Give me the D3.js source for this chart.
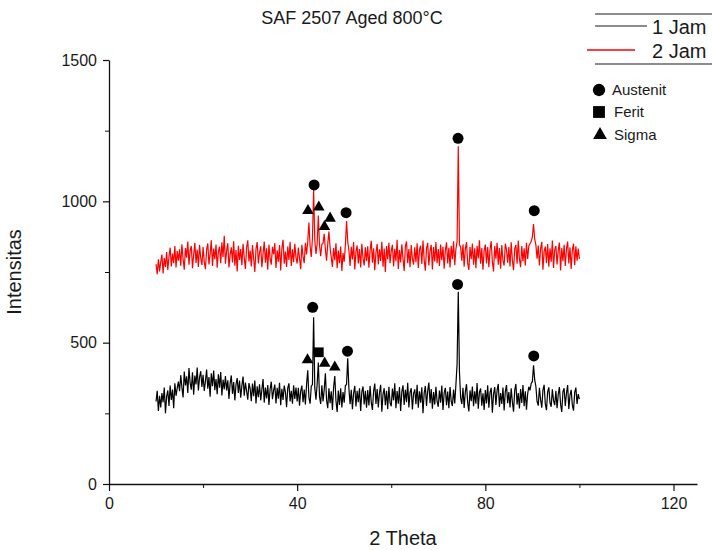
<!DOCTYPE html>
<html>
<head>
<meta charset="utf-8">
<script src="https://cdn.jsdelivr.net/npm/d3@7"></script>
<style>
  body { margin: 0; background: #fff; }
  svg { display: block; font-family: "Liberation Sans", Arial, sans-serif; }
</style>
</head>
<body>
<div id="chart"></div>
<script>
// scan grid (2 Theta, degrees): one row below = 5 degrees
var thetaStart = 10, thetaStep = 0.25;

// 1 Jam (lower trace), intensity per step
var jam1 = [
  292, 330, 258, 312, 271, 322, 289, 341, 250, 309, 331, 276, 348, 297, 334, 268, 356, 312, 339, 362,
  328, 385, 342, 306, 398, 349, 381, 322, 410, 358, 334, 395, 316, 384, 352, 412, 331, 377, 399, 343,
  386, 329, 364, 405, 337, 378, 309, 392, 346, 401, 332, 371, 318, 388, 341, 396, 313, 369, 335, 382,
  331, 367, 301, 356, 384, 319, 361, 296, 352, 375, 322, 366, 305, 348, 380, 312, 359, 329, 298, 357,
  338, 293, 355, 311, 366, 285, 346, 307, 353, 296, 334, 371, 288, 341, 303, 350, 280, 336, 362, 300,
  331, 352, 285, 340, 302, 358, 279, 337, 297, 348, 325, 272, 339, 356, 292, 330, 284, 349, 301, 341,
  292, 340, 277, 329, 348, 289, 334, 281, 352, 402, 306, 284, 346, 352, 590, 340, 298, 353, 430, 310,
  283, 349, 292, 334, 392, 297, 268, 339, 286, 328, 262, 343, 382, 294, 255, 331, 280, 339, 271, 325,
  288, 348, 352, 445, 338, 282, 333, 265, 321, 347, 274, 330, 289, 339, 258, 326, 345, 281, 330, 270,
  332, 278, 347, 289, 262, 328, 355, 283, 336, 271, 323, 351, 256, 317, 339, 279, 330, 265, 344, 287,
  275, 338, 296, 356, 268, 329, 284, 343, 258, 326, 349, 280, 333, 289, 358, 271, 324, 339, 264, 320,
  335, 282, 351, 270, 328, 288, 342, 250, 321, 347, 276, 330, 359, 286, 336, 266, 325, 281, 344, 291,
  273, 331, 288, 348, 262, 322, 340, 279, 327, 268, 343, 292, 276, 334, 285, 352, 425, 680, 398, 305,
  283, 340, 269, 327, 353, 288, 257, 331, 293, 345, 275, 328, 284, 357, 266, 325, 338, 277, 321, 262,
  332, 285, 349, 270, 324, 340, 252, 319, 343, 280, 331, 354, 273, 322, 283, 341, 260, 327, 350, 286,
  325, 271, 339, 290, 256, 331, 354, 281, 322, 267, 336, 287, 350, 275, 328, 263, 319, 344, 331, 356,
  362, 420, 368, 345, 292, 277, 340, 298, 270, 332, 351, 283, 261, 326, 342, 288, 273, 335, 295, 279,
  330, 268, 317, 343, 282, 255, 327, 339, 276, 321, 350, 265, 314, 333, 279, 260, 324, 341, 283, 318,
  300
];

// 2 Jam (upper trace)
var jam2 = [
  778, 742, 795, 752, 786, 812, 745, 799, 768, 821, 757, 804, 836, 770, 815, 781, 842, 766, 824, 790,
  830, 772, 848, 796, 758, 835, 801, 858, 776, 826, 842, 763, 811, 853, 782, 829, 768, 846, 799, 775,
  838, 786, 760, 829, 851, 777, 815, 862, 771, 833, 795, 847, 765, 822, 840, 781, 855, 803, 878, 779,
  824, 852, 766, 811, 837, 784, 859, 772, 828, 752, 843, 793, 831, 774, 850, 800, 761, 836, 862, 787,
  826, 770, 845, 798, 750, 832, 856, 780, 819, 841, 767, 814, 858, 783, 834, 758, 847, 797, 776, 839,
  812, 852, 764, 827, 786, 845, 755, 833, 864, 779, 822, 768, 840, 793, 857, 771, 830, 785, 850, 802,
  780, 836, 799, 760, 846, 806, 781, 853, 812, 858, 925, 842, 803, 870, 1040, 862, 814, 850, 950, 846,
  806, 848, 852, 885, 831, 790, 849, 893, 836, 801, 768, 835, 792, 852, 763, 826, 781, 840, 754, 817,
  786, 845, 930, 858, 827, 771, 839, 794, 856, 759, 822, 844, 780, 831, 766, 850, 799, 773, 837, 788,
  841, 765, 826, 860, 783, 834, 756, 818, 849, 777, 830, 789, 857, 769, 833, 750, 842, 795, 853, 781,
  824, 846, 770, 832, 788, 864, 761, 828, 784, 848, 797, 754, 840, 858, 781, 831, 767, 845, 796, 776,
  837, 785, 852, 764, 829, 843, 778, 861, 793, 755, 834, 853, 773, 826, 846, 759, 838, 787, 856, 781,
  831, 771, 847, 792, 839, 762, 826, 855, 780, 836, 766, 843, 795, 859, 774, 832, 858, 1195, 846, 839,
  790, 848, 769, 832, 856, 781, 757, 838, 795, 851, 776, 834, 763, 843, 798, 862, 779, 835, 758, 826,
  847, 780, 838, 767, 829, 859, 786, 752, 842, 797, 853, 776, 835, 762, 845, 791, 773, 850, 829, 783,
  838, 770, 855, 792, 756, 833, 846, 779, 861, 797, 767, 842, 788, 834, 773, 853, 796, 842, 850, 858,
  874, 920, 866, 846, 797, 844, 773, 831, 857, 758, 823, 840, 781, 849, 769, 834, 786, 861, 764, 829,
  842, 777, 826, 854, 755, 835, 788, 846, 771, 831, 858, 780, 837, 761, 828, 850, 774, 841, 790, 833,
  796
];

// phase markers above the peaks
var markerTheta = [43.6, 42.3, 44.6, 45.8, 47.0, 50.4, 74.2, 90.4,
                   43.3, 44.6, 42.2, 45.85, 48.0, 50.7, 74.1, 90.3];
var markerIntensity = [1058, 967, 979, 910, 940, 960, 1223, 967,
                       625, 466, 439, 427, 413, 470, 706, 453];
var markerPhase = ["Austenit", "Sigma", "Sigma", "Sigma", "Sigma", "Austenit", "Austenit", "Austenit",
                   "Austenit", "Ferit", "Sigma", "Sigma", "Sigma", "Austenit", "Austenit", "Austenit"];

var phases = ["Austenit", "Ferit", "Sigma"];
var seriesNames = ["1 Jam", "2 Jam"];
var xTicks = [0, 40, 80, 120], xMinor = [20, 60, 100];
var yTicks = [0, 500, 1000, 1500], yMinor = [250, 750, 1250];

var width = 712, height = 550;
var margin = {top: 60, right: 15, bottom: 66, left: 109};

var svg = d3.select("#chart").append("svg")
  .attr("width", width)
  .attr("height", height);

var x = d3.scaleLinear().domain([0, 125]).range([margin.left, width - margin.right]);
var y = d3.scaleLinear().domain([0, 1500]).range([height - margin.bottom, margin.top]);

var shapeOf = {
  "Austenit": d3.symbolCircle,
  "Ferit": d3.symbolSquare,
  "Sigma": d3.symbolTriangle
};
var plotSize = {"Austenit": 95, "Ferit": 95, "Sigma": 58};
var keySize = {"Austenit": 120, "Ferit": 140, "Sigma": 82};

// axes: major ticks with labels, minor ticks without
function styleAxis(g) {
  g.select(".domain").attr("stroke", "#111").attr("stroke-width", 1.3);
  g.selectAll(".tick line").attr("stroke", "#111").attr("stroke-width", 1.2);
  g.selectAll(".tick text").attr("fill", "#1a1a1a").style("font-size", "16px");
}

svg.append("g")
  .attr("transform", "translate(0," + y(0) + ")")
  .call(d3.axisBottom(x).tickValues(xMinor).tickSize(4).tickSizeOuter(0).tickFormat(""))
  .call(function(g) { g.select(".domain").remove(); g.selectAll("line").attr("stroke", "#111"); });

svg.append("g")
  .attr("transform", "translate(" + x(0) + ",0)")
  .call(d3.axisLeft(y).tickValues(yMinor).tickSize(4).tickSizeOuter(0).tickFormat(""))
  .call(function(g) { g.select(".domain").remove(); g.selectAll("line").attr("stroke", "#111"); });

svg.append("g")
  .attr("transform", "translate(0," + y(0) + ")")
  .call(d3.axisBottom(x).tickValues(xTicks).tickSize(7).tickSizeOuter(0).tickPadding(7)
    .tickFormat(d3.format("d")))
  .call(styleAxis);

svg.append("g")
  .attr("transform", "translate(" + x(0) + ",0)")
  .call(d3.axisLeft(y).tickValues(yTicks).tickSize(6).tickSizeOuter(0).tickPadding(6)
    .tickFormat(d3.format("d")))
  .call(styleAxis);

// traces
var line = d3.line()
  .x(function(d, i) { return x(thetaStart + i * thetaStep); })
  .y(function(d) { return y(d); });

svg.append("path")
  .datum(jam1)
  .attr("fill", "none")
  .attr("stroke", "#000")
  .attr("stroke-width", 1.2)
  .attr("d", line);

svg.append("path")
  .datum(jam2)
  .attr("fill", "none")
  .attr("stroke", "#ff0000")
  .attr("stroke-width", 1.2)
  .attr("d", line);

// phase markers
svg.selectAll(".marker")
  .data(markerTheta)
  .enter().append("path")
  .attr("class", "marker")
  .attr("fill", "#000")
  .attr("transform", function(d, i) { return "translate(" + x(d) + "," + y(markerIntensity[i]) + ")"; })
  .attr("d", function(d, i) {
    var p = markerPhase[i];
    return d3.symbol().type(shapeOf[p]).size(plotSize[p])();
  });

// titles
svg.append("text")
  .attr("x", 352).attr("y", 24)
  .attr("text-anchor", "middle")
  .style("font-size", "18px")
  .attr("fill", "#1a1a1a")
  .text("SAF 2507 Aged 800°C");

svg.append("text")
  .attr("x", (x(0) + x(125)) / 2).attr("y", 545)
  .attr("text-anchor", "middle")
  .style("font-size", "20px")
  .attr("fill", "#1a1a1a")
  .text("2 Theta");

svg.append("text")
  .attr("transform", "translate(21," + y(750) + ") rotate(-90)")
  .attr("text-anchor", "middle")
  .style("font-size", "20px")
  .attr("fill", "#1a1a1a")
  .text("Intensitas");

// series legend box (open on the left, runs off the right edge)
var legend = svg.append("g");
legend.append("line").attr("x1", 595).attr("x2", 712).attr("y1", 14).attr("y2", 14)
  .attr("stroke", "#666").attr("stroke-width", 1.5);
legend.append("line").attr("x1", 595).attr("x2", 712).attr("y1", 64).attr("y2", 64)
  .attr("stroke", "#666").attr("stroke-width", 1.5);

var seriesColor = ["#666", "#ff0000"];
var seriesLineX = [[595, 647], [587, 635]];
legend.selectAll(".key")
  .data(seriesNames)
  .enter().append("g")
  .attr("transform", function(d, i) { return "translate(0," + (26 + i * 24) + ")"; })
  .each(function(d, i) {
    var g = d3.select(this);
    g.append("line")
      .attr("x1", seriesLineX[i][0]).attr("x2", seriesLineX[i][1])
      .attr("stroke", seriesColor[i]).attr("stroke-width", 1.3);
    g.append("text")
      .attr("x", 652).attr("y", 8)
      .style("font-size", "20px")
      .attr("fill", "#1a1a1a")
      .text(d);
  });

// phase legend
var keyPos = {"Austenit": [599, 90, 612], "Ferit": [599, 112, 614], "Sigma": [600, 135, 614]};
svg.selectAll(".phase-key")
  .data(phases)
  .enter().append("g")
  .attr("class", "phase-key")
  .each(function(p) {
    var g = d3.select(this), k = keyPos[p];
    g.append("path")
      .attr("transform", "translate(" + k[0] + "," + k[1] + ")")
      .attr("d", d3.symbol().type(shapeOf[p]).size(keySize[p])())
      .attr("fill", "#000");
    g.append("text")
      .attr("x", k[2]).attr("y", k[1] + 5)
      .style("font-size", "15px")
      .attr("fill", "#1a1a1a")
      .text(p);
  });
</script>
</body>
</html>
